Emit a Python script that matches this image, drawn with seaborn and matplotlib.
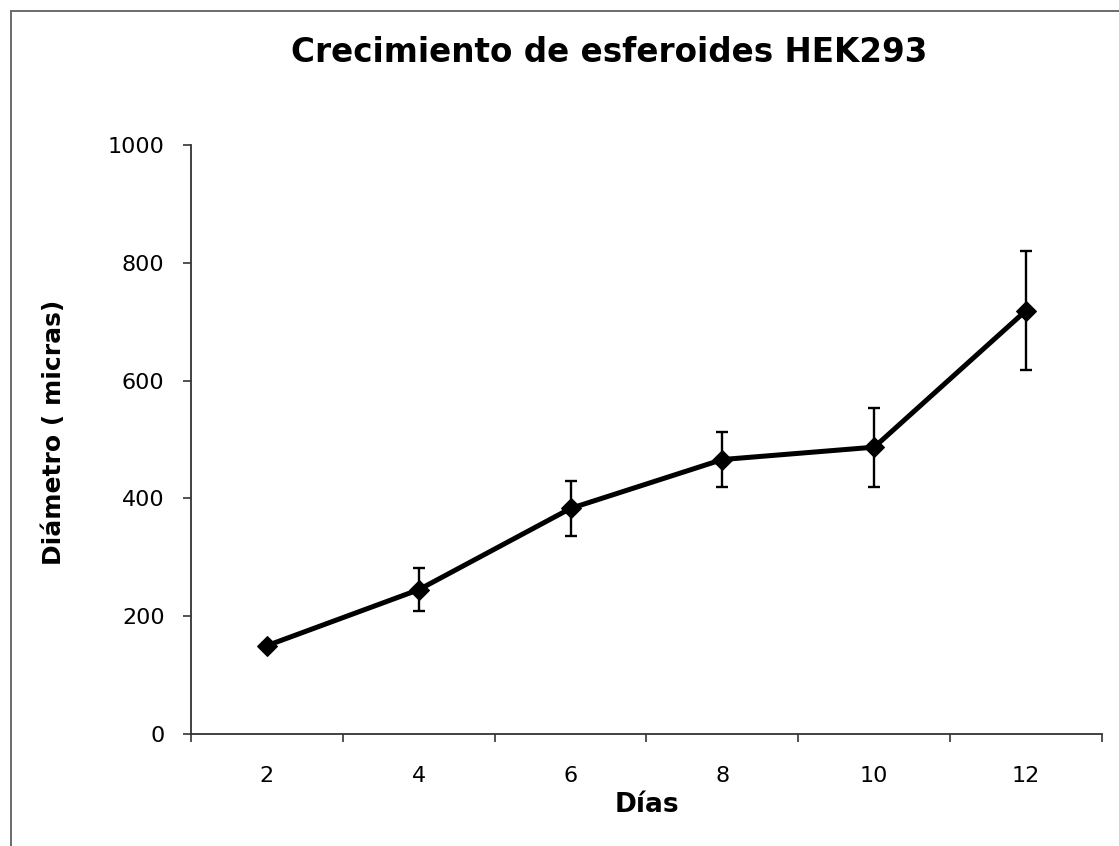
import numpy as np
import pandas as pd
import matplotlib
matplotlib.use("Agg")
import matplotlib.pyplot as plt
from matplotlib.patches import Rectangle
import seaborn as sns

sns.set_style("white")
plt.rcParams["font.family"] = ["DejaVu Sans"]
plt.rcParams["text.color"] = "black"
plt.rcParams["axes.labelcolor"] = "black"
plt.rcParams["xtick.color"] = "black"
plt.rcParams["ytick.color"] = "black"

# values
dias = ["2", "4", "6", "8", "10", "12"]
diametro = [150, 245, 383, 466, 487, 719]
error = [5, 36, 47, 46, 67, 101]

df = pd.DataFrame({"dias": dias, "diametro": diametro, "error": error})
df["pos"] = np.arange(len(df))

fig = plt.figure(figsize=(11.19, 8.46), dpi=100)
ax = fig.add_axes([191 / 1119, 1 - 734 / 846, (1102 - 191) / 1119, (734 - 145) / 846])

ax.errorbar(df["pos"], df["diametro"], yerr=df["error"], fmt="none",
            ecolor="black", elinewidth=1.7, capsize=4.3, capthick=1.7, zorder=2)
sns.lineplot(data=df, x="pos", y="diametro", ax=ax, color="black", linewidth=3.6,
             marker="D", markersize=10, markeredgecolor="black", zorder=3)

ax.set_xlim(-0.5, len(dias) - 0.5)
ax.set_ylim(0, 1000)
ax.set_yticks(range(0, 1001, 200))
ax.set_xticks(df["pos"])
ax.set_xticklabels(dias)
ax.set_xticks(np.arange(-0.5, len(dias), 1.0), minor=True)
ax.tick_params(axis="x", which="major", length=0, pad=23, labelsize=16)
ax.tick_params(axis="x", which="minor", length=6, width=1.2, color="#333333", direction="out", bottom=True)
ax.tick_params(axis="y", length=6, width=1.2, color="#333333", direction="out", left=True,
               pad=13, labelsize=16)

for side in ["top", "right"]:
    ax.spines[side].set_visible(False)
for side in ["left", "bottom"]:
    ax.spines[side].set_color("#333333")
    ax.spines[side].set_linewidth(1.3)

ax.set_xlabel("Días", fontsize=19, fontweight="bold", labelpad=4)
ax.set_ylabel("Diámetro ( micras)", fontsize=18, fontweight="bold")
ax.yaxis.set_label_coords(-(191 - 66) / 911, (734 - 432) / 589)

fig.text(609 / 1119, 1 - 53 / 846, "Crecimiento de esferoides HEK293", ha="center", va="center",
         fontsize=23.5, fontweight="bold")

fig.patches.append(Rectangle((11 / 1119, -0.1), 1.2, 1.1 - 11 / 846, transform=fig.transFigure,
                             fill=False, edgecolor="#606060", linewidth=1.3))

fig.savefig("out.png", dpi=100)
